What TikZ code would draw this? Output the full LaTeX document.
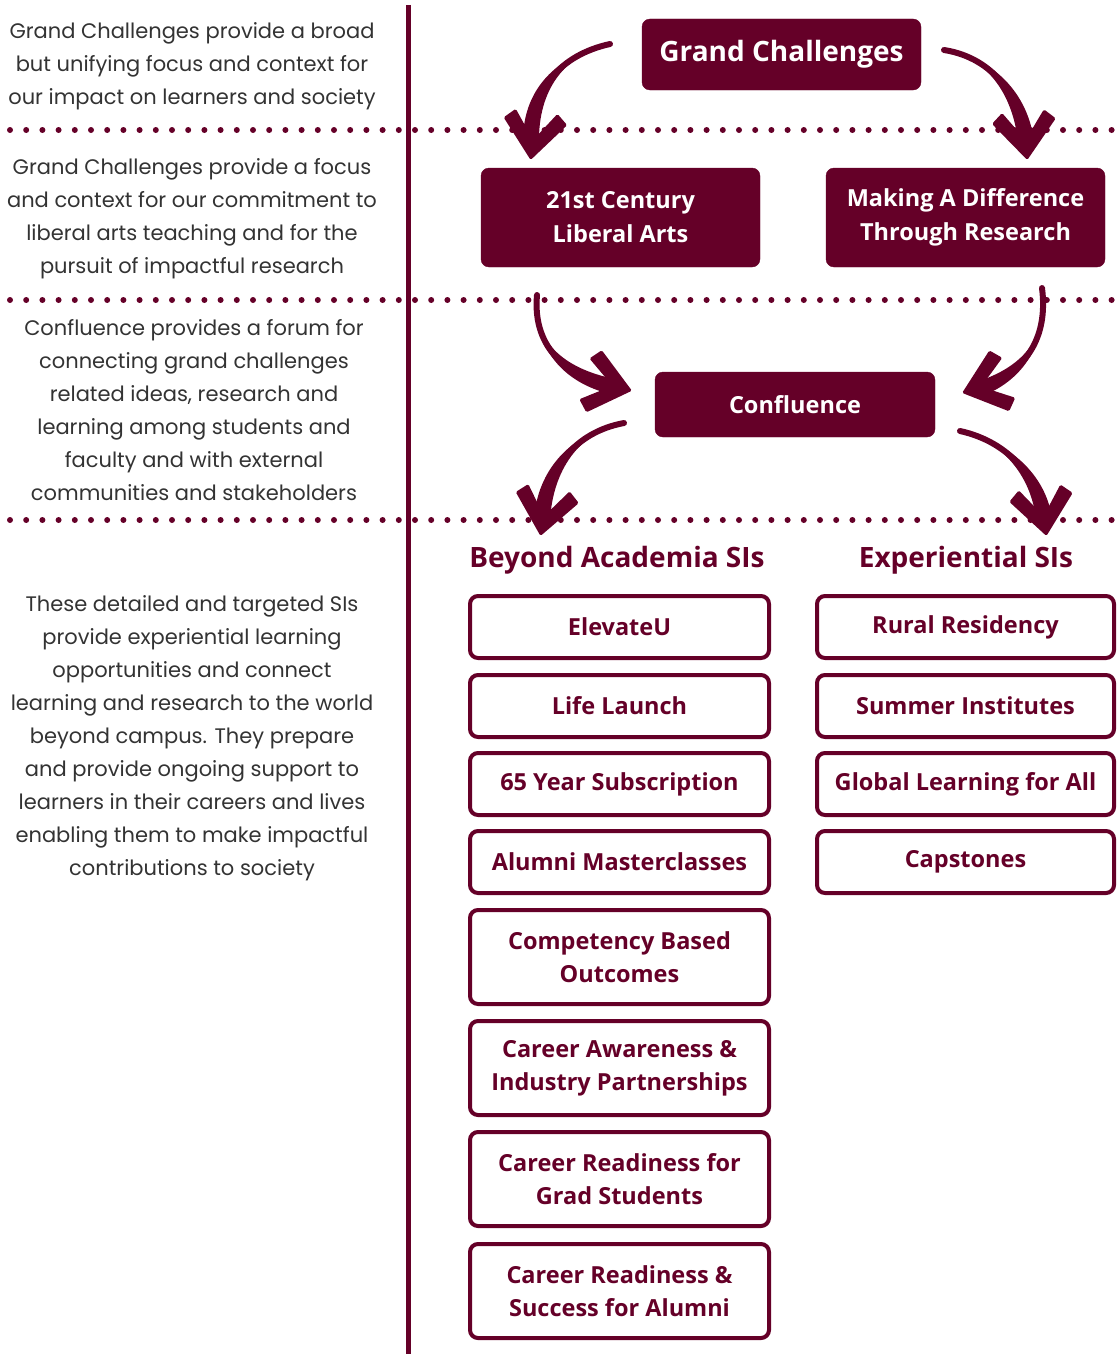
\documentclass[tikz,border=0pt]{standalone}
\usepackage{fontspec}
\usetikzlibrary{calc}
\setmainfont{Open Sans}
\newfontfamily\leftfont{Poppins}
\definecolor{maroon}{HTML}{650028}
\definecolor{txtgray}{HTML}{333333}
\tikzset{
  fillbox/.style={draw=maroon, fill=maroon, rounded corners=8pt, inner sep=0pt, align=center,
    text=white, font=\bfseries\fontsize{23.5}{34}\selectfont},
  outbox/.style={draw=maroon, line width=4pt, fill=white, rounded corners=8pt, inner sep=0pt, align=center,
    text=maroon, font=\bfseries\fontsize{23.5}{33}\selectfont},
  lefttext/.style={align=center, text=txtgray, inner sep=0pt, font=\leftfont\fontsize{21}{33}\selectfont},
  heading/.style={text=maroon, inner sep=0pt, font=\bfseries\fontsize{28}{30}\selectfont},
  dotline/.style={draw=maroon, line width=6pt, line cap=round, dash pattern=on 0pt off 16.2pt},
  tailline/.style={draw=maroon, line width=6pt, line cap=round},
  brushhead/.pic={\fill[maroon, rounded corners=1.5pt] (0,3) -- (-32,-36) -- (-21,-46) -- (0,-17) -- (21,-46) -- (32,-36) -- cycle;},
}
% tapered shaft: tail, control 1, control 2, end, half-width offset at the end
\newcommand\brushshaft[5]{%
  \fill[maroon] #1 .. controls ($#2+0.5*#5$) and ($#3+1.0*#5$) .. ($#4+#5$)
     -- ($#4-#5$) .. controls ($#3-1.0*#5$) and ($#2-0.5*#5$) .. #1 -- cycle;
  \draw[tailline] #1 .. controls #2 and #3 .. #4;}
\begin{document}
\begin{tikzpicture}[x=1pt,y=-1pt]
\useasboundingbox (0,0) rectangle (1118,1354);
% dotted separators
\coordinate (d1a) at (10,130); \coordinate (d1b) at (1118,130);
\coordinate (d2a) at (10,300); \coordinate (d2b) at (1118,300);
\coordinate (d3a) at (10,520); \coordinate (d3b) at (1118,520);
\draw[dotline] (d1a) -- (d1b);
\draw[dotline] (d2a) -- (d2b);
\draw[dotline] (d3a) -- (d3b);
% vertical divider
\coordinate (va) at (408,5); \coordinate (vb) at (408,1354);
\draw[maroon, line width=5pt] (va) -- (vb);

% left texts
\node[lefttext] (t1) at (192,66) {Grand Challenges provide a broad\\but unifying focus and context for\\our impact on learners and society};
\node[lefttext] (t2) at (192,219) {Grand Challenges provide a focus\\and context for our commitment to\\liberal arts teaching and for the\\pursuit of impactful research};
\node[lefttext] (t3) at (194,410) {Confluence provides a forum for\\connecting grand challenges\\related ideas, research and\\learning among students and\\faculty and with external\\communities and stakeholders};
\node[lefttext] (t4) at (192,738) {These detailed and targeted SIs\\provide experiential learning\\opportunities and connect\\learning and research to the world\\beyond campus. They prepare\\and provide ongoing support to\\learners in their careers and lives\\enabling them to make impactful\\contributions to society};

% filled boxes
\node[fillbox, minimum width=279pt, minimum height=71pt, font=\bfseries\fontsize{28}{30}\selectfont] (gc) at (781.5,54.5) {Grand Challenges};
\node[fillbox, minimum width=279pt, minimum height=99pt] (la) at (620.5,217.5) {21st Century\\Liberal Arts};
\node[fillbox, minimum width=279pt, minimum height=99pt] (md) at (965.5,217.5) {Making A Difference\\Through Research};
\node[fillbox, minimum width=280pt, minimum height=65pt] (cf) at (795,404.5) {Confluence};

% headings
\node[heading] (h1) at (617,560) {Beyond Academia SIs};
\node[heading] (h2) at (966,560) {Experiential SIs};

% left column boxes
\node[outbox, minimum width=299pt, minimum height=62pt] (b1) at (619.5,627) {ElevateU};
\node[outbox, minimum width=299pt, minimum height=62pt] (b2) at (619.5,706) {Life Launch};
\node[outbox, minimum width=299pt, minimum height=62pt] (b3) at (619.5,784) {65 Year Subscription};
\node[outbox, minimum width=299pt, minimum height=62pt] (b4) at (619.5,862) {Alumni Masterclasses};
\node[outbox, minimum width=299pt, minimum height=94pt] (b5) at (619.5,957) {Competency Based\\Outcomes};
\node[outbox, minimum width=299pt, minimum height=94pt] (b6) at (619.5,1068) {Career Awareness \&\\Industry Partnerships};
\node[outbox, minimum width=299pt, minimum height=94pt] (b7) at (619.5,1179) {Career Readiness for\\Grad Students};
\node[outbox, minimum width=299pt, minimum height=94pt] (b8) at (619.5,1291) {Career Readiness \&\\Success for Alumni};

% right column boxes
\node[outbox, minimum width=297pt, minimum height=62pt] (r1) at (965.5,627) {Rural Residency};
\node[outbox, minimum width=297pt, minimum height=62pt] (r2) at (965.5,706) {Summer Institutes};
\node[outbox, minimum width=297pt, minimum height=62pt] (r3) at (965.5,784) {Global Learning for All};
\node[outbox, minimum width=297pt, minimum height=62pt] (r4) at (965.5,862) {Capstones};

% arrows
% A1: Grand Challenges -> 21st Century
\coordinate (a1t) at (610,44); \coordinate (a1c) at (560,55); \coordinate (a1d) at (530,90);
\coordinate (a1e) at (531,143); \coordinate (a1p) at (531,157);
\brushshaft{(a1t)}{(a1c)}{(a1d)}{(a1e)}{(8,0)}
\pic[rotate=-7] at (a1p) {brushhead};
% A2: Grand Challenges -> Making A Difference
\coordinate (a2t) at (944,50); \coordinate (a2c) at (995,58); \coordinate (a2d) at (1022,100);
\coordinate (a2e) at (1026,143); \coordinate (a2p) at (1027,157);
\brushshaft{(a2t)}{(a2c)}{(a2d)}{(a2e)}{(8,0)}
\pic[rotate=5] at (a2p) {brushhead};
% A3: 21st Century -> Confluence
\coordinate (a3t) at (537,295); \coordinate (a3c) at (532,350); \coordinate (a3d) at (570,378);
\coordinate (a3e) at (615,387); \coordinate (a3p) at (629,390);
\brushshaft{(a3t)}{(a3c)}{(a3d)}{(a3e)}{(0,8)}
\pic[rotate=76] at (a3p) {brushhead};
% A4: Making A Difference -> Confluence
\coordinate (a4t) at (1042,288); \coordinate (a4c) at (1050,350); \coordinate (a4d) at (1012,378);
\coordinate (a4e) at (979,389); \coordinate (a4p) at (965,392);
\brushshaft{(a4t)}{(a4c)}{(a4d)}{(a4e)}{(0,8)}
\pic[rotate=-72] at (a4p) {brushhead};
% A5: Confluence -> Beyond Academia
\coordinate (a5t) at (624,423); \coordinate (a5c) at (575,432); \coordinate (a5d) at (545,470);
\coordinate (a5e) at (542,520); \coordinate (a5p) at (541,533);
\brushshaft{(a5t)}{(a5c)}{(a5d)}{(a5e)}{(8,0)}
\pic[rotate=-10] at (a5p) {brushhead};
% A6: Confluence -> Experiential
\coordinate (a6t) at (960,431); \coordinate (a6c) at (1010,442); \coordinate (a6d) at (1040,480);
\coordinate (a6e) at (1044,520); \coordinate (a6p) at (1046,533);
\brushshaft{(a6t)}{(a6c)}{(a6d)}{(a6e)}{(8,0)}
\pic[rotate=8] at (a6p) {brushhead};
\end{tikzpicture}
\end{document}
